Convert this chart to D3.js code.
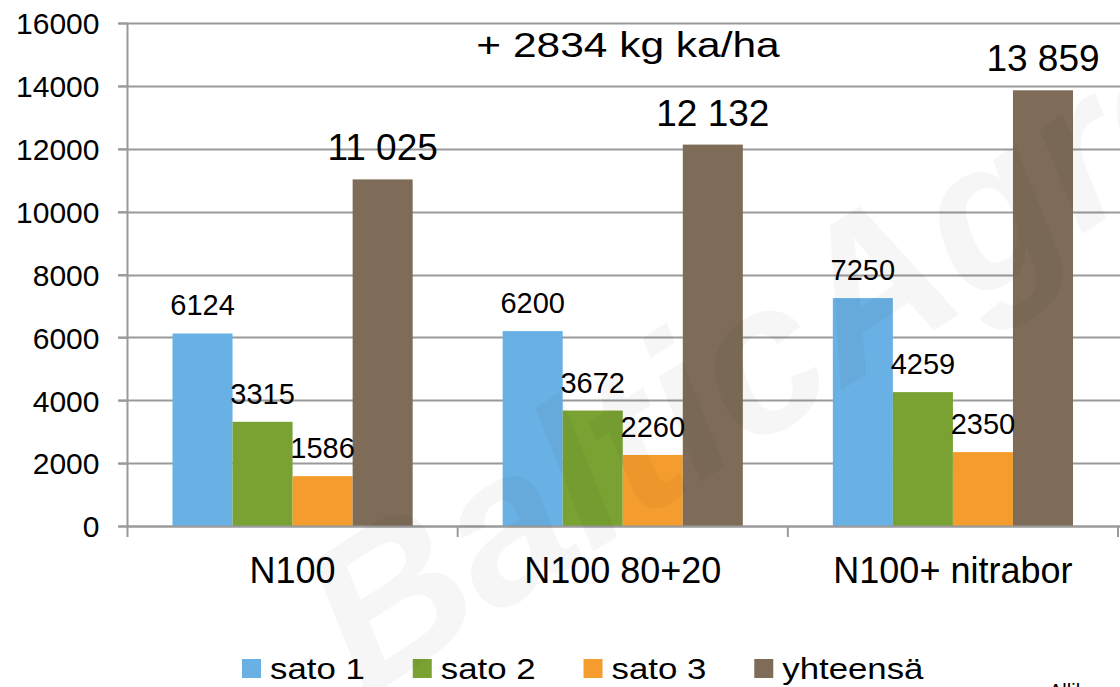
<!DOCTYPE html>
<html>
<head>
<meta charset="utf-8">
<script src="https://cdn.jsdelivr.net/npm/d3@7"></script>
<style>
  html, body { margin: 0; padding: 0; background: #ffffff; }
  svg { display: block; font-family: "Liberation Sans", Arial, sans-serif; }
</style>
</head>
<body>
<svg id="chart" width="1120" height="687"></svg>
<script>
// Yield per treatment (kg ka/ha)
const categories = ["N100", "N100 80+20", "N100+ nitrabor"];
const seriesNames = ["sato 1", "sato 2", "sato 3", "yhteensä"];
const sato1 = [6124, 6200, 7250];
const sato2 = [3315, 3672, 4259];
const sato3 = [1586, 2260, 2350];
const yhteensa = [11025, 12132, 13859];
const yTicks = [0, 2000, 4000, 6000, 8000, 10000, 12000, 14000, 16000];
const note = "+ 2834 kg ka/ha";
const sourceText = "Allikas";

const seriesValues = [sato1, sato2, sato3, yhteensa];
const colors = ["#69b1e4", "#79a233", "#f59c2e", "#7e6c58"];

const svg = d3.select("#chart");
const W = 1120;
const plotLeft = 127.5, plotRight = 1118, plotTop = 23, plotBottom = 526;

const x0 = d3.scaleBand().domain(categories).range([plotLeft, plotRight]).padding(0);
const x1 = d3.scaleBand().domain(seriesNames).range([45, x0.bandwidth() - 45]).padding(0);
const y = d3.scaleLinear().domain([0, 16000]).range([plotBottom, plotTop]);

// Gridlines
svg.append("g")
  .selectAll("line")
  .data(yTicks)
  .join("line")
  .attr("x1", 118).attr("x2", W)
  .attr("y1", d => Math.round(y(d)) + 0.5)
  .attr("y2", d => Math.round(y(d)) + 0.5)
  .attr("stroke", "#9a9a9a").attr("stroke-width", 2);

// Bars
const rows = categories.map((c, i) => ({
  cat: c,
  vals: seriesNames.map((s, j) => ({ series: s, idx: j, value: seriesValues[j][i] }))
}));

const groups = svg.append("g").selectAll("g")
  .data(rows).join("g")
  .attr("transform", d => `translate(${x0(d.cat)},0)`);

groups.selectAll("rect")
  .data(d => d.vals).join("rect")
  .attr("x", d => x1(d.series))
  .attr("width", x1.bandwidth())
  .attr("y", d => y(d.value))
  .attr("height", d => y(0) - y(d.value))
  .attr("fill", d => colors[d.idx]);

// Value labels
const spaced = v => d3.format(",")(v).replace(/,/g, " ");
groups.selectAll("text")
  .data(d => d.vals).join("text")
  .attr("x", d => x1(d.series) + x1.bandwidth() / 2)
  .attr("y", d => y(d.value) - (d.idx === 3 ? 19 : 18))
  .attr("text-anchor", "middle")
  .attr("font-size", d => d.idx === 3 ? 37 : 29)
  .attr("fill", "#000")
  .text(d => d.idx === 3 ? spaced(d.value) : d.value);

// Y axis
const yAxis = d3.axisLeft(y).tickValues(yTicks).tickSize(9).tickPadding(19).tickFormat(d3.format("d"));
const ya = svg.append("g").attr("transform", `translate(${plotLeft},0)`).call(yAxis);
ya.select(".domain").remove();
ya.selectAll(".tick line").attr("stroke", "#9a9a9a").attr("stroke-width", 2);
ya.selectAll(".tick text").attr("font-size", 30).attr("fill", "#000")
  .attr("font-family", "'Liberation Sans', Arial, sans-serif").attr("dy", "0.36em");
svg.append("line")
  .attr("x1", plotLeft).attr("x2", plotLeft).attr("y1", plotTop).attr("y2", plotBottom + 11)
  .attr("stroke", "#9a9a9a").attr("stroke-width", 2);

// X axis
svg.append("line")
  .attr("x1", plotLeft).attr("x2", W).attr("y1", plotBottom + 0.5).attr("y2", plotBottom + 0.5)
  .attr("stroke", "#9a9a9a").attr("stroke-width", 2);
const bounds = categories.map(c => x0(c)).concat([x0(categories[categories.length - 1]) + x0.bandwidth()]);
svg.append("g").selectAll("line").data(bounds.slice(1)).join("line")
  .attr("x1", d => d).attr("x2", d => d)
  .attr("y1", plotBottom).attr("y2", plotBottom + 11)
  .attr("stroke", "#9a9a9a").attr("stroke-width", 2);
svg.append("g").selectAll("text").data(categories).join("text")
  .attr("x", d => x0(d) + x0.bandwidth() / 2)
  .attr("y", 583)
  .attr("text-anchor", "middle")
  .attr("font-size", 36)
  .attr("fill", "#000")
  .text(d => d);

// Annotation
svg.append("text")
  .attr("transform", "translate(628,57) scale(1.18,1)")
  .attr("text-anchor", "middle")
  .attr("font-size", 36)
  .attr("fill", "#000")
  .text(note);

// Legend
const legend = svg.append("g");
let lx = 242;
seriesNames.forEach((s, i) => {
  const g = legend.append("g").attr("transform", `translate(${lx},0)`);
  g.append("rect").attr("x", 0).attr("y", 659).attr("width", 19).attr("height", 19).attr("fill", colors[i]);
  const t = g.append("text")
    .attr("transform", "translate(28,679) scale(1.2,1)")
    .attr("font-size", 29).attr("fill", "#000").text(s);
  lx += 28 + t.node().getComputedTextLength() * 1.2 + 48;
});

// Source note, cut off at the bottom edge
svg.append("text")
  .attr("x", 1049).attr("y", 698)
  .attr("font-size", 20).attr("fill", "#000")
  .text(sourceText);

// Faint watermark across the plot
svg.append("text")
  .attr("transform", "translate(365,700) rotate(-33)")
  .attr("font-size", 210)
  .attr("font-weight", "bold")
  .attr("font-style", "italic")
  .attr("fill", "#000")
  .attr("fill-opacity", 0.035)
  .text("BalticAgro");
</script>
</body>
</html>
